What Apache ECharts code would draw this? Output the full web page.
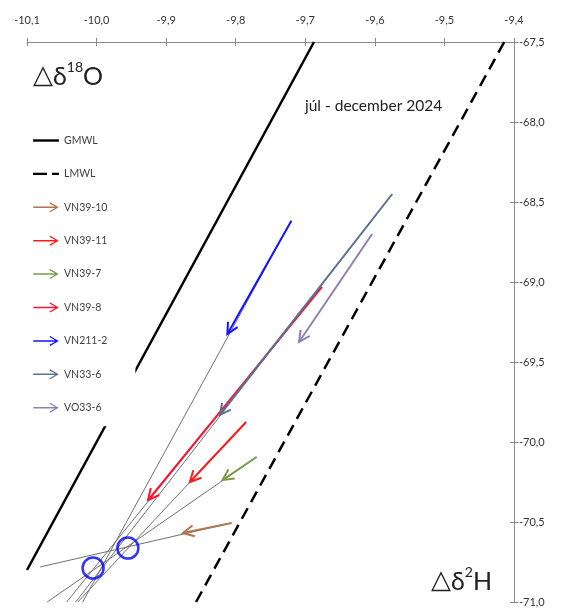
<!DOCTYPE html>
<html>
<head>
<meta charset="utf-8">
<script src="https://cdn.jsdelivr.net/npm/echarts@6/dist/echarts.min.js"></script>
<style>
  html, body { margin: 0; padding: 0; background: #ffffff; }
  #chart { width: 561px; height: 610px; }
</style>
</head>
<body>
<div id="chart"></div>
<script>
// Axis ranges: δ18O along the top, δ2H along the right side
const xRange = [-10.1, -9.4];
const xStep = 0.1;
const yRange = [-71.0, -67.5];
const yStep = 0.5;

// Meteoric water lines, end points [δ18O, δ2H]
const gmwlO = [-10.1, -9.6875];
const gmwlH = [-70.8, -67.5];
const lmwlO = [-9.857, -9.414];
const lmwlH = [-71.0, -67.5];

// Sampling points: shift from first (start) to second (end) measurement
const sampleNames = ['VN39-10', 'VN39-11', 'VN39-7', 'VN39-8', 'VN211-2', 'VN33-6', 'VO33-6'];
const sampleColors = ['#b27650', '#ff1a1a', '#7b9a4a', '#ff1230', '#1414ff', '#5b7190', '#8f80b0'];
const startO = [-9.806, -9.785, -9.770, -9.676, -9.720, -9.575, -9.604];
const startH = [-70.506, -69.875, -70.094, -69.031, -68.617, -68.450, -68.700];
const endO = [-9.876, -9.866, -9.819, -9.926, -9.812, -9.823, -9.709];
const endH = [-70.569, -70.250, -70.238, -70.363, -69.325, -69.831, -69.375];

// Lower ends of the extended trend lines (null: no trend line drawn)
const trendO = [-10.081, -10.027, -10.071, -10.043, -10.020, -10.030, null];
const trendH = [-70.781, -71.0, -71.0, -71.0, -71.0, -71.0, null];

// Intersections of the trend lines
const crossO = [-10.005, -9.955];
const crossH = [-70.788, -70.663];

const FONT = 'Lato, "Open Sans", "DejaVu Sans", sans-serif';
const commaFmt = v => Number(v).toFixed(1).replace('.', ',');

// Legend glyphs: arrow (pointing right), solid line, long-short dash
const arrowIcon = 'path://M0,4.3 L21.3,4.3 L21.3,5.7 L0,5.7 Z M15.6,0.4 L23.5,5 L15.6,9.6 L14.9,8.6 L21.4,5 L14.9,1.4 Z';
const solidIcon = 'path://M0,0 L26,0 L26,2.4 L0,2.4 Z';
const dashIcon = 'path://M0,0 L14,0 L14,2.4 L0,2.4 Z M19,0 L26,0 L26,2.4 L19,2.4 Z';

function arrowItem(params, api) {
  const p0 = api.coord([api.value(0), api.value(1)]);
  const p1 = api.coord([api.value(2), api.value(3)]);
  const dx = p1[0] - p0[0], dy = p1[1] - p0[1];
  const len = Math.hypot(dx, dy) || 1;
  const ux = dx / len, uy = dy / len;
  const hl = 11, hw = 5.5;
  const color = api.visual('color');
  return {
    type: 'group',
    children: [
      { type: 'line', shape: { x1: p0[0], y1: p0[1], x2: p1[0], y2: p1[1] },
        style: { stroke: color, lineWidth: 2 } },
      { type: 'polyline',
        shape: { points: [
          [p1[0] - hl * ux - hw * uy, p1[1] - hl * uy + hw * ux],
          [p1[0], p1[1]],
          [p1[0] - hl * ux + hw * uy, p1[1] - hl * uy - hw * ux]
        ] },
        style: { stroke: color, lineWidth: 2, fill: 'none' } }
    ]
  };
}

function trendItem(params, api) {
  const p0 = api.coord([api.value(0), api.value(1)]);
  const p1 = api.coord([api.value(2), api.value(3)]);
  return {
    type: 'line',
    shape: { x1: p0[0], y1: p0[1], x2: p1[0], y2: p1[1] },
    style: { stroke: '#707070', lineWidth: 1 }
  };
}

const trendData = [];
sampleNames.forEach((n, i) => {
  if (trendO[i] !== null) trendData.push([startO[i], startH[i], trendO[i], trendH[i]]);
});

const series = [
  {
    name: 'trend',
    type: 'custom',
    renderItem: trendItem,
    data: trendData,
    encode: { x: [0, 2], y: [1, 3] },
    z: 2,
    silent: true
  },
  {
    name: 'GMWL',
    type: 'line',
    data: gmwlO.map((o, i) => [o, gmwlH[i]]),
    symbol: 'none',
    lineStyle: { color: '#000000', width: 2.5 },
    itemStyle: { color: '#000000' },
    z: 3
  },
  {
    name: 'LMWL',
    type: 'line',
    data: lmwlO.map((o, i) => [o, lmwlH[i]]),
    symbol: 'none',
    lineStyle: { color: '#000000', width: 2.5, type: [12, 7] },
    itemStyle: { color: '#000000' },
    z: 3
  }
];

sampleNames.forEach((n, i) => {
  series.push({
    name: n,
    type: 'custom',
    renderItem: arrowItem,
    data: [[startO[i], startH[i], endO[i], endH[i]]],
    encode: { x: [0, 2], y: [1, 3] },
    itemStyle: { color: sampleColors[i] },
    z: 4
  });
});

series.push({
  name: 'crossings',
  type: 'scatter',
  data: crossO.map((o, i) => [o, crossH[i]]),
  symbol: 'circle',
  symbolSize: 21,
  itemStyle: { color: 'rgba(0,0,0,0)', borderColor: '#0000ff', borderWidth: 2.5 },
  z: 5,
  silent: true
});

const legendData = [{ name: 'GMWL', icon: solidIcon }, { name: 'LMWL', icon: dashIcon }]
  .concat(sampleNames.map(n => ({ name: n, icon: arrowIcon })));

const axisColor = '#8a8a8a';

const richLabel = {
  t: { fontFamily: '"DejaVu Sans", sans-serif', fontSize: 26, fontWeight: 'normal', color: '#222', lineHeight: 29, verticalAlign: 'bottom' },
  d: { fontFamily: FONT, fontSize: 25, fontWeight: 'normal', color: '#222', lineHeight: 29, verticalAlign: 'bottom' },
  s: { fontFamily: FONT, fontSize: 14, fontWeight: 'normal', color: '#222', lineHeight: 25, verticalAlign: 'top' }
};

const option = {
  animation: false,
  backgroundColor: '#ffffff',
  textStyle: { fontFamily: FONT },
  grid: { left: 27, right: 47, top: 42, bottom: 8, containLabel: false },
  title: [
    {
      text: '{t|△}{d|δ}{s|18}{d|O}',
      left: 28, top: 55,
      textStyle: { fontWeight: 'normal', rich: richLabel }
    },
    {
      text: '{t|△}{d|δ}{s|2}{d|H}',
      left: 426, top: 560,
      textStyle: { fontWeight: 'normal', rich: richLabel }
    },
    {
      text: 'júl - december 2024',
      left: 300, top: 93,
      textStyle: { fontFamily: FONT, fontSize: 15.5, fontWeight: 'normal', color: '#222' }
    }
  ],
  legend: {
    orient: 'vertical',
    left: 20, top: 125,
    padding: [10, 28, 13, 13],
    backgroundColor: '#ffffff',
    itemWidth: 26, itemHeight: 10,
    itemGap: 22.4,
    selectedMode: false,
    textStyle: { fontFamily: FONT, fontSize: 10.5, color: '#404040', lineHeight: 10 },
    data: legendData,
    z: 10
  },
  xAxis: [
    {
      type: 'value', position: 'top',
      min: xRange[0], max: xRange[1], interval: xStep,
      axisLine: { show: true, onZero: false, lineStyle: { color: axisColor, width: 1 } },
      axisTick: { show: true, inside: false, length: 4, lineStyle: { color: axisColor } },
      axisLabel: { formatter: commaFmt, fontSize: 11, color: '#333', margin: 16, fontFamily: FONT },
      splitLine: { show: false }
    },
    {
      type: 'value', position: 'top',
      min: xRange[0], max: xRange[1], interval: xStep,
      axisLine: { show: false, onZero: false },
      axisTick: { show: true, inside: true, length: 4, lineStyle: { color: axisColor } },
      axisLabel: { show: false },
      splitLine: { show: false }
    }
  ],
  yAxis: [
    {
      type: 'value', position: 'right',
      min: yRange[0], max: yRange[1], interval: yStep,
      axisLine: { show: true, onZero: false, lineStyle: { color: axisColor, width: 1 } },
      axisTick: { show: true, inside: false, length: 4, lineStyle: { color: axisColor } },
      axisLabel: { formatter: commaFmt, fontSize: 11, color: '#333', margin: 5, fontFamily: FONT },
      splitLine: { show: false }
    },
    {
      type: 'value', position: 'right',
      min: yRange[0], max: yRange[1], interval: yStep,
      axisLine: { show: false, onZero: false },
      axisTick: { show: true, inside: true, length: 4, lineStyle: { color: axisColor } },
      axisLabel: { show: false },
      splitLine: { show: false }
    }
  ],
  series: series
};

const chart = echarts.init(document.getElementById('chart'), null, { renderer: 'canvas' });
chart.setOption(option);
</script>
</body>
</html>
